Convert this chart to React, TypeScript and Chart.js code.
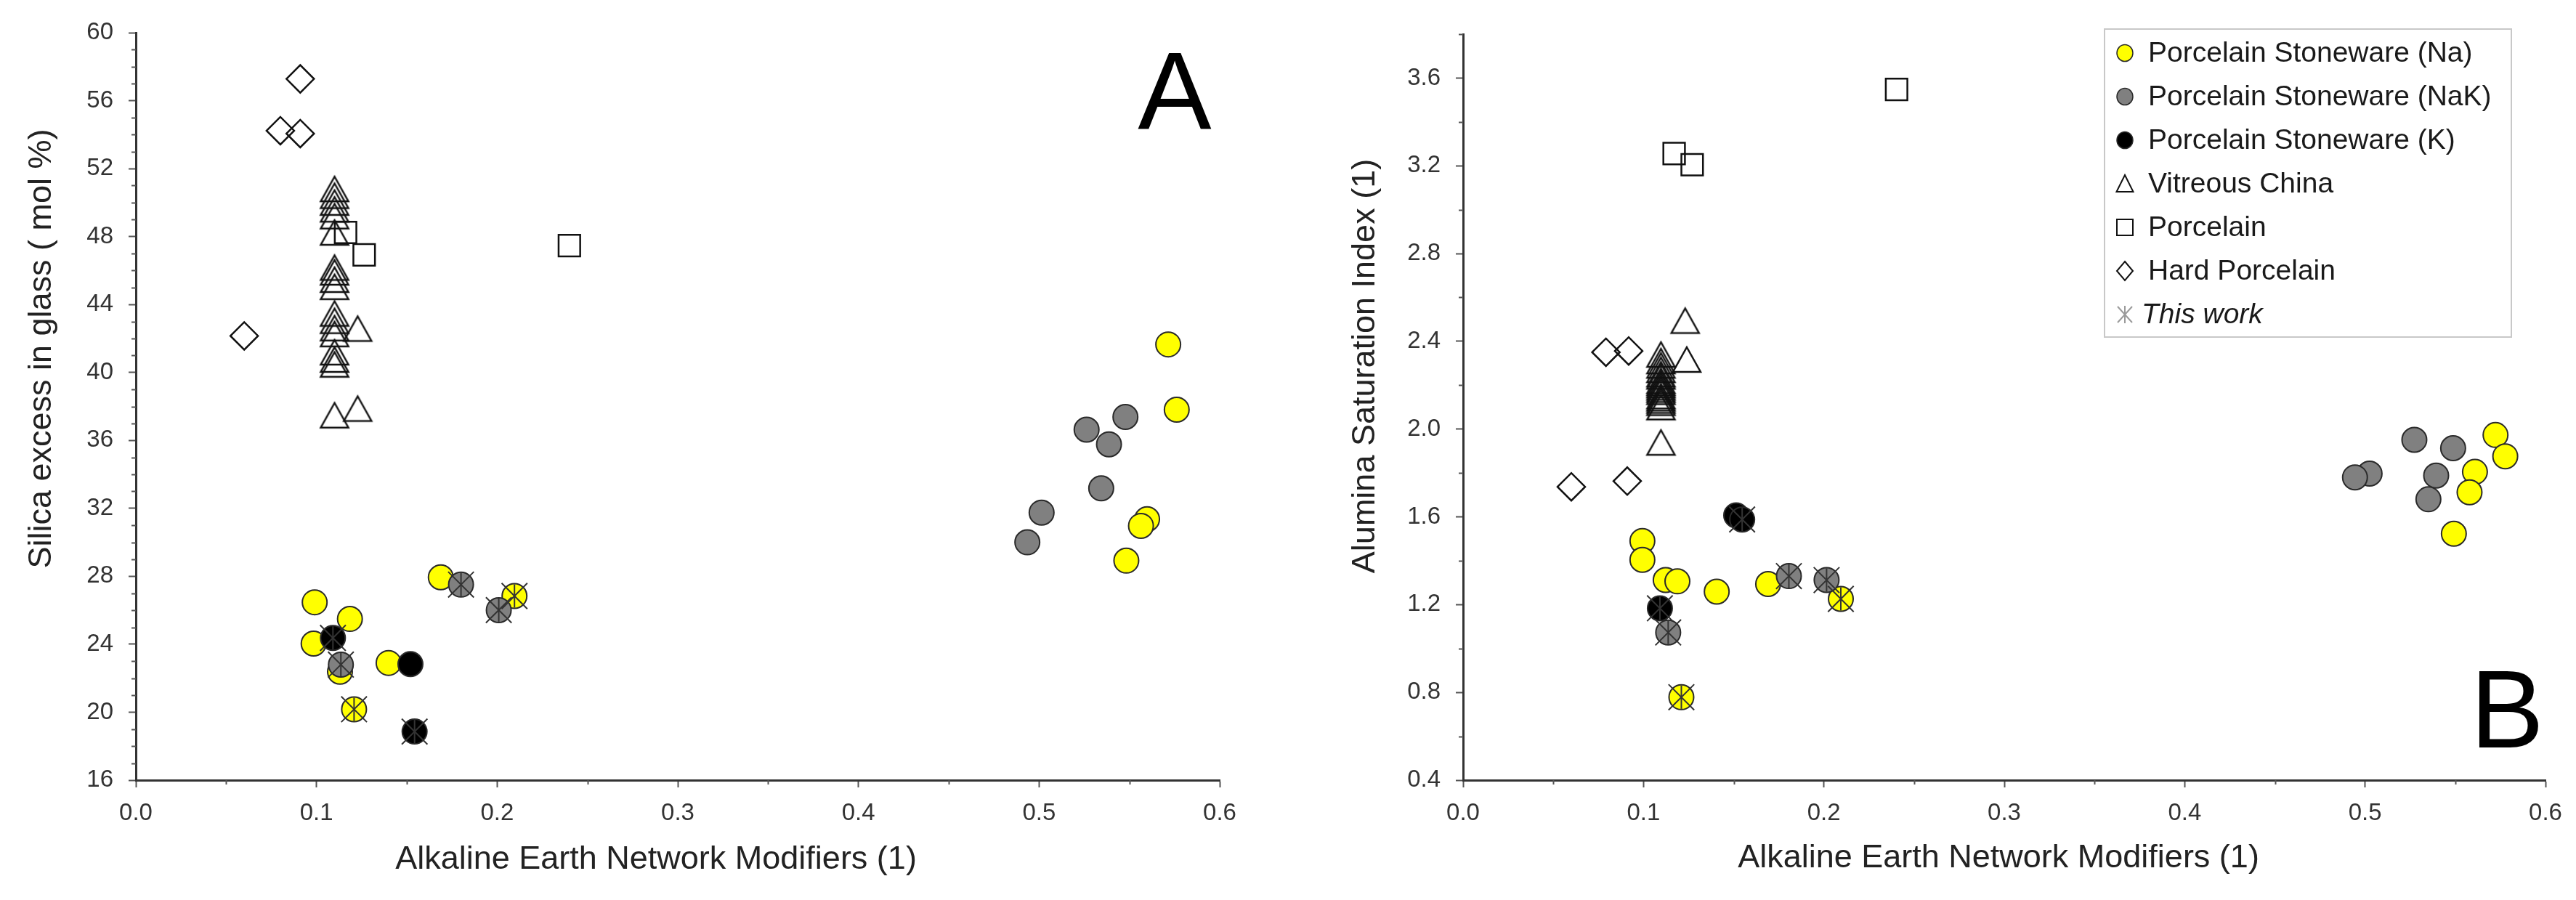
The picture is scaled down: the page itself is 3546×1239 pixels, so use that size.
import React, { useEffect, useRef } from 'react';
import { Chart, registerables } from 'chart.js';

Chart.register(...registerables);

type Pt = [number, number];

const FONT = "'Liberation Sans', Arial, Helvetica, sans-serif";

// ---------- shared axis / text ----------
const xTickValues = [0, 0.1, 0.2, 0.3, 0.4, 0.5, 0.6];
const yTickValuesA = [16, 20, 24, 28, 32, 36, 40, 44, 48, 52, 56, 60];
const yTickValuesB = [0.4, 0.8, 1.2, 1.6, 2.0, 2.4, 2.8, 3.2, 3.6];

const legendLabels = [
  'Porcelain Stoneware (Na)',
  'Porcelain Stoneware (NaK)',
  'Porcelain Stoneware (K)',
  'Vitreous China',
  'Porcelain',
  'Hard Porcelain',
  'This work',
];
const xTitleText = 'Alkaline Earth Network Modifiers (1)';
const yTitleTextA = 'Silica excess in glass ( mol %)';
const yTitleTextB = 'Alumina Saturation Index (1)';

// ---------- Panel A: silica excess ----------
const naA: Pt[] = [
  [0.099, 26.47], [0.1185, 25.49], [0.0984, 24.04], [0.113, 22.38], [0.1399, 22.9],
  [0.1688, 27.94], [0.2096, 26.84], [0.1208, 20.17],
  [0.5715, 41.65], [0.5762, 37.81], [0.5598, 31.36], [0.5564, 30.97], [0.5483, 28.92],
];
const nakA: Pt[] = [
  [0.1135, 22.8], [0.18, 27.51], [0.2009, 26.01],
  [0.5478, 37.38], [0.5263, 36.63], [0.5387, 35.77], [0.5344, 33.18], [0.5014, 31.75], [0.4935, 30.0],
];
const kA: Pt[] = [[0.1091, 24.37], [0.152, 22.83], [0.1543, 18.86]];
const vitreousA: Pt[] = [
  [0.11, 50.8], [0.11, 50.4], [0.11, 50.0], [0.11, 49.6], [0.11, 49.2], [0.11, 48.24],
  [0.11, 46.17], [0.11, 45.89], [0.11, 45.46], [0.11, 45.04],
  [0.11, 43.47], [0.11, 43.04], [0.11, 42.61], [0.11, 42.26],
  [0.11, 41.19], [0.11, 40.76], [0.11, 40.47],
  [0.11, 37.48], [0.1228, 42.58], [0.1228, 37.87],
];
const porcelainA: Pt[] = [[0.1161, 48.24], [0.1264, 46.92], [0.24, 47.47]];
const hardA: Pt[] = [[0.091, 57.28], [0.08, 54.23], [0.091, 54.06], [0.06, 42.15]];
const thisWorkA: Pt[] = [
  [0.1208, 20.17], [0.2096, 26.84], [0.1135, 22.8], [0.18, 27.51], [0.2009, 26.01], [0.1091, 24.37], [0.1543, 18.86],
];

// ---------- Panel B: alumina saturation index ----------
const naB: Pt[] = [
  [0.0994, 1.49], [0.0994, 1.404], [0.1123, 1.312], [0.1188, 1.306], [0.1406, 1.259],
  [0.1691, 1.294], [0.2094, 1.226], [0.121, 0.778],
  [0.5723, 1.973], [0.5777, 1.876], [0.5609, 1.805], [0.5579, 1.712], [0.5492, 1.523],
];
const nakB: Pt[] = [
  [0.1137, 1.073], [0.1806, 1.33], [0.2015, 1.312],
  [0.5488, 1.913], [0.5273, 1.951], [0.5394, 1.788], [0.5351, 1.68], [0.5025, 1.797], [0.4944, 1.78],
];
const kB: Pt[] = [[0.1091, 1.183], [0.1514, 1.607], [0.1547, 1.588]];
const vitreousB: Pt[] = [
  [0.1097, 2.34], [0.1097, 2.31], [0.1097, 2.29], [0.1097, 2.27], [0.1097, 2.25], [0.1097, 2.24],
  [0.1097, 2.22], [0.1097, 2.21], [0.1097, 2.2], [0.1097, 2.19], [0.1097, 2.18], [0.1097, 2.17],
  [0.1097, 2.15], [0.1097, 2.14], [0.1097, 2.13], [0.1097, 2.12], [0.1097, 2.1],
  [0.1097, 1.939], [0.1231, 2.494], [0.124, 2.317],
];
const porcelainB: Pt[] = [[0.117, 3.256], [0.127, 3.205], [0.2403, 3.548]];
const hardB: Pt[] = [[0.0792, 2.35], [0.0918, 2.356], [0.06, 1.737], [0.091, 1.763]];
const thisWorkB: Pt[] = [
  [0.121, 0.778], [0.2094, 1.226], [0.1137, 1.073], [0.1806, 1.33], [0.2015, 1.312], [0.1091, 1.183], [0.1547, 1.588],
];

// ---------- styling ----------
const YELLOW = '#ffff00';
const GRAY = '#808080';
const BLACK = '#000000';
const EDGE = '#2a2a2a';

const toXY = (arr: Pt[]) => arr.map(([x, y]) => ({ x, y }));

function makeTriangle(): HTMLCanvasElement {
  const c = document.createElement('canvas');
  c.width = 44;
  c.height = 42;
  const g = c.getContext('2d')!;
  g.strokeStyle = '#111';
  g.lineWidth = 2.5;
  g.beginPath();
  g.moveTo(22, 4);
  g.lineTo(41, 38);
  g.lineTo(3, 38);
  g.closePath();
  g.stroke();
  return c;
}

const minorTicksPlugin = {
  id: 'minorTicks',
  afterDraw(chart: any, _args: any, opts: any) {
    const ctx = chart.ctx;
    const xs = chart.scales.x;
    const ys = chart.scales.y;
    ctx.save();
    ctx.strokeStyle = '#555';
    ctx.lineWidth = 2;
    const run = (majors: number[], sub: number, max: number, draw: (v: number) => void) => {
      for (let i = 0; i < majors.length - 1; i++) {
        const step = (majors[i + 1] - majors[i]) / sub;
        for (let k = 1; k < sub; k++) draw(majors[i] + k * step);
      }
      const last = majors[majors.length - 1];
      const step = (majors[1] - majors[0]) / sub;
      for (let v = last + step; v <= max + 1e-9; v += step) draw(v);
    };
    run(opts.xMajors, opts.xSub, xs.max, (v) => {
      const p = Math.round(xs.getPixelForValue(v)) + 0.5;
      ctx.beginPath();
      ctx.moveTo(p, xs.top);
      ctx.lineTo(p, xs.top + 6);
      ctx.stroke();
    });
    run(opts.yMajors, opts.ySub, ys.max, (v) => {
      const p = Math.round(ys.getPixelForValue(v)) + 0.5;
      ctx.beginPath();
      ctx.moveTo(ys.right, p);
      ctx.lineTo(ys.right - 6, p);
      ctx.stroke();
    });
    ctx.restore();
  },
};

const panelTextPlugin = {
  id: 'panelText',
  afterDraw(chart: any, _args: any, o: any) {
    const ctx = chart.ctx;
    ctx.save();
    ctx.fillStyle = '#222';
    ctx.font = `45px ${FONT}`;
    ctx.textBaseline = 'alphabetic';
    ctx.textAlign = 'center';
    ctx.fillText(o.xTitle, o.xTitleX, o.xTitleY);
    ctx.save();
    ctx.translate(o.yTitleX, o.yTitleY);
    ctx.rotate(-Math.PI / 2);
    ctx.fillText(o.yTitle, 0, 0);
    ctx.restore();
    ctx.fillStyle = '#000';
    ctx.font = `152px ${FONT}`;
    ctx.textAlign = o.letterAlign;
    ctx.fillText(o.letter, o.letterX, o.letterY);
    ctx.restore();
  },
};

function drawLegendMarker(ctx: CanvasRenderingContext2D, i: number, x: number, y: number) {
  ctx.save();
  ctx.lineWidth = 2;
  ctx.strokeStyle = '#111';
  if (i <= 2) {
    ctx.fillStyle = [YELLOW, GRAY, BLACK][i];
    ctx.beginPath();
    ctx.ellipse(x, y, 11, 11.5, 0, 0, Math.PI * 2);
    ctx.fill();
    ctx.strokeStyle = EDGE;
    ctx.lineWidth = 1.5;
    ctx.stroke();
  } else if (i === 3) {
    ctx.beginPath();
    ctx.moveTo(x, y - 12);
    ctx.lineTo(x + 11.5, y + 11);
    ctx.lineTo(x - 11.5, y + 11);
    ctx.closePath();
    ctx.stroke();
  } else if (i === 4) {
    ctx.strokeRect(x - 11, y - 11, 22, 22);
  } else if (i === 5) {
    ctx.beginPath();
    ctx.moveTo(x, y - 13);
    ctx.lineTo(x + 11, y);
    ctx.lineTo(x, y + 13);
    ctx.lineTo(x - 11, y);
    ctx.closePath();
    ctx.stroke();
  } else {
    ctx.strokeStyle = '#9a9a9a';
    ctx.beginPath();
    ctx.moveTo(x - 10, y - 11);
    ctx.lineTo(x + 10, y + 11);
    ctx.moveTo(x + 10, y - 11);
    ctx.lineTo(x - 10, y + 11);
    ctx.moveTo(x, y - 12);
    ctx.lineTo(x, y + 12);
    ctx.stroke();
  }
  ctx.restore();
}

const insetLegendPlugin = {
  id: 'insetLegend',
  afterDraw(chart: any, _args: any, o: any) {
    if (!o || !o.show) return;
    const ctx = chart.ctx;
    ctx.save();
    ctx.fillStyle = '#fff';
    ctx.fillRect(o.boxX, o.boxY, o.boxW, o.boxH);
    ctx.strokeStyle = '#c8c8c8';
    ctx.lineWidth = 2;
    ctx.strokeRect(o.boxX, o.boxY, o.boxW, o.boxH);
    legendLabels.forEach((label, i) => {
      const y = o.rowY0 + i * o.rowGap;
      drawLegendMarker(ctx, i, o.markerX, y);
      ctx.fillStyle = '#1a1a1a';
      ctx.textAlign = 'left';
      ctx.textBaseline = 'middle';
      ctx.font = `${i === 6 ? 'italic ' : ''}39px ${FONT}`;
      ctx.fillText(label, i === 6 ? o.textX - 9 : o.textX, y + 1);
    });
    ctx.restore();
  },
};

interface PanelSpec {
  na: Pt[]; nak: Pt[]; k: Pt[]; vc: Pt[]; por: Pt[]; hp: Pt[]; tw: Pt[];
  yMin: number; yMax: number; yTicks: number[]; yFmt: (v: number) => string; ySub: number;
  pad: { left: number; right: number; top: number; bottom: number };
  yWidth: number; xHeight: number;
  text: any; legend: any;
}

function buildConfig(p: PanelSpec, tri: HTMLCanvasElement): any {
  const circle = (data: Pt[], fill: string, label: string) => ({
    label, data: toXY(data), pointStyle: 'circle', radius: 17, borderWidth: 2,
    backgroundColor: fill, borderColor: EDGE, showLine: false,
  });
  return {
    type: 'scatter',
    data: {
      datasets: [
        { label: 'This work', data: toXY(p.tw), pointStyle: 'crossRot', radius: 25, borderWidth: 2,
          borderColor: '#333', backgroundColor: 'rgba(0,0,0,0)', showLine: false },
        { label: 'This work (bar)', data: toXY(p.tw), pointStyle: 'line', rotation: 90, radius: 16, borderWidth: 2,
          borderColor: '#333', backgroundColor: 'rgba(0,0,0,0)', showLine: false },
        circle(p.k, BLACK, legendLabels[2]),
        circle(p.nak, GRAY, legendLabels[1]),
        circle(p.na, YELLOW, legendLabels[0]),
        { label: legendLabels[3], data: toXY(p.vc), pointStyle: tri, radius: 20, showLine: false },
        { label: legendLabels[4], data: toXY(p.por), pointStyle: 'rect', radius: 21, borderWidth: 2.5,
          borderColor: '#111', backgroundColor: 'rgba(0,0,0,0)', showLine: false },
        { label: legendLabels[5], data: toXY(p.hp), pointStyle: 'rectRot', radius: 19, borderWidth: 2.5,
          borderColor: '#111', backgroundColor: 'rgba(0,0,0,0)', showLine: false },
      ],
    },
    options: {
      responsive: false,
      maintainAspectRatio: false,
      animation: false,
      devicePixelRatio: 1,
      events: [],
      layout: { padding: p.pad },
      plugins: {
        legend: { display: false },
        tooltip: { enabled: false },
        minorTicks: { xMajors: xTickValues, xSub: 2, yMajors: p.yTicks, ySub: p.ySub },
        panelText: p.text,
        insetLegend: p.legend,
      },
      scales: {
        x: {
          type: 'linear', min: 0, max: 0.6,
          afterFit: (s: any) => { s.height = p.xHeight; },
          afterBuildTicks: (s: any) => { s.ticks = xTickValues.map((v) => ({ value: v })); },
          border: { display: true, color: '#333', width: 3 },
          grid: { display: true, drawOnChartArea: false, drawTicks: true, tickLength: 10, tickColor: '#555', tickWidth: 2, color: '#555' },
          ticks: { font: { family: FONT, size: 33 }, color: '#333', padding: 16, maxRotation: 0, autoSkip: false,
            callback: (v: any) => Number(v).toFixed(1) },
        },
        y: {
          type: 'linear', min: p.yMin, max: p.yMax,
          afterFit: (s: any) => { s.width = p.yWidth; },
          afterBuildTicks: (s: any) => { s.ticks = p.yTicks.map((v) => ({ value: v })); },
          border: { display: true, color: '#333', width: 3 },
          grid: { display: true, drawOnChartArea: false, drawTicks: true, tickLength: 10, tickColor: '#555', tickWidth: 2, color: '#555' },
          ticks: { font: { family: FONT, size: 33 }, color: '#333', padding: 21, autoSkip: false,
            callback: (v: any) => p.yFmt(Number(v)) },
        },
      },
    },
    plugins: [minorTicksPlugin, panelTextPlugin, insetLegendPlugin],
  };
}

const W = 1773;
const H = 1239;

export default function App() {
  const refA = useRef<HTMLCanvasElement>(null);
  const refB = useRef<HTMLCanvasElement>(null);

  useEffect(() => {
    Chart.defaults.font.family = FONT;
    const tri = makeTriangle();
    const specA: PanelSpec = {
      na: naA, nak: nakA, k: kA, vc: vitreousA, por: porcelainA, hp: hardA, tw: thisWorkA,
      yMin: 16, yMax: 60, yTicks: yTickValuesA, yFmt: (v) => String(Math.round(v)), ySub: 4,
      pad: { left: 0, right: W - 1679, top: 45, bottom: 0 },
      yWidth: 187, xHeight: H - 1074,
      text: { xTitle: xTitleText, xTitleX: 903, xTitleY: 1196, yTitle: yTitleTextA, yTitleX: 70, yTitleY: 480,
        letter: 'A', letterX: 1617, letterY: 178, letterAlign: 'center' },
      legend: { show: false },
    };
    const specB: PanelSpec = {
      na: naB, nak: nakB, k: kB, vc: vitreousB, por: porcelainB, hp: hardB, tw: thisWorkB,
      yMin: 0.4, yMax: 3.8, yTicks: yTickValuesB, yFmt: (v) => v.toFixed(1), ySub: 2,
      pad: { left: 0, right: W - 1731, top: 47, bottom: 0 },
      yWidth: 241, xHeight: H - 1074,
      text: { xTitle: xTitleText, xTitleX: 978, xTitleY: 1194, yTitle: yTitleTextB, yTitleX: 119, yTitleY: 504,
        letter: 'B', letterX: 1729, letterY: 1029, letterAlign: 'right' },
      legend: { show: true, boxX: 1124, boxY: 40, boxW: 560, boxH: 424, rowY0: 73, rowGap: 60, markerX: 1152, textX: 1184 },
    };
    const a = new Chart(refA.current!, buildConfig(specA, tri));
    const b = new Chart(refB.current!, buildConfig(specB, tri));
    return () => { a.destroy(); b.destroy(); };
  }, []);

  return (
    <div style={{ position: 'absolute', left: 0, top: 0, width: 2 * W, height: H, background: '#fff', overflow: 'hidden' }}>
      <canvas ref={refA} width={W} height={H} style={{ position: 'absolute', left: 0, top: 0, width: W, height: H }} />
      <canvas ref={refB} width={W} height={H} style={{ position: 'absolute', left: W, top: 0, width: W, height: H }} />
    </div>
  );
}
